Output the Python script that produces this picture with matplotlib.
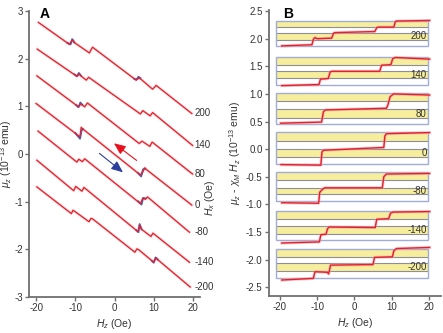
import matplotlib
matplotlib.use("Agg")
import matplotlib.pyplot as plt
from matplotlib.patches import Rectangle

plt.rcParams['font.family'] = ['Liberation Sans', 'DejaVu Sans']
plt.rcParams['mathtext.fontset'] = 'custom'
plt.rcParams['mathtext.rm'] = 'Liberation Sans'
plt.rcParams['mathtext.it'] = 'Liberation Sans:italic'
plt.rcParams['axes.unicode_minus'] = False

hx_labels = ['200', '140', '80', '0', '-80', '-140', '-200']

# ---- panel A: mu_z vs H_z (vertices) ----
a_x_200 = [-19.4, -11.5, -10.9, -10.6, -10.1, -6.4, -5.9, -5.6, 5.5, 6.0, 6.3, 9.7, 10.2, 10.6, 19.7]
a_y_200 = [2.76, 2.30, 2.37, 2.39, 2.33, 2.12, 2.20, 2.24, 1.55, 1.58, 1.60, 1.36, 1.40, 1.44, 0.85]
a_x_140 = [-19.7, -9.6, -9.1, -8.6, -7.2, -6.6, 6.6, 7.2, 9.1, 9.7, 19.9]
a_y_140 = [2.20, 1.63, 1.68, 1.64, 1.55, 1.61, 0.84, 0.91, 0.80, 0.87, 0.18]
a_x_80 = [-19.8, -9.2, -8.6, -7.6, -6.9, 6.3, 7.0, 9.0, 9.6, 19.9]
a_y_80 = [1.64, 0.99, 1.05, 0.99, 1.07, 0.22, 0.27, 0.16, 0.25, -0.42]
a_x_0 = [-20.0, -8.8, -8.5, -8.0, 6.6, 7.3, 7.7, 8.2, 19.7]
a_y_0 = [1.06, 0.36, 0.56, 0.52, -0.44, -0.36, -0.29, -0.33, -1.07]
a_x_m80 = [-19.5, -9.6, -9.1, -8.2, -7.6, 6.6, 7.2, 7.9, 8.4, 19.1]
a_y_m80 = [0.48, -0.17, -0.11, -0.16, -0.10, -1.04, -0.93, -0.95, -0.90, -1.64]
a_x_m140 = [-19.8, -10.4, -9.9, -8.3, -7.8, 6.0, 6.4, 6.9, 9.3, 9.8, 19.1]
a_y_m140 = [-0.13, -0.77, -0.68, -0.78, -0.70, -1.63, -1.49, -1.58, -1.73, -1.66, -2.27]
a_x_m200 = [-19.8, -11.0, -10.6, -10.2, -6.5, -6.0, -5.6, 5.2, 5.7, 6.2, 10.0, 10.5, 19.3]
a_y_m200 = [-0.69, -1.25, -1.18, -1.20, -1.42, -1.35, -1.36, -2.06, -1.99, -2.01, -2.27, -2.18, -2.79]

# blue (up sweep) where it shows from under the red
blue_x = [[-12.0, -11.2, -10.8, -10.3], [5.0, 5.6, 6.1, 6.6],
          [-10.2, -9.5, -9.1, -8.6], [-9.8, -9.2, -8.7, -8.2],
          [-10.0, -8.8, -8.4, -8.0], [6.0, 6.8, 7.3, 7.8],
          [6.0, 6.9, 7.3, 7.8], [5.6, 6.1, 6.4, 6.9],
          [9.5, 10.0, 10.5, 11.0]]
blue_y = [[2.33, 2.30, 2.41, 2.34], [1.58, 1.56, 1.62, 1.59],
          [1.67, 1.63, 1.70, 1.65], [1.03, 0.98, 1.08, 1.03],
          [0.44, 0.32, 0.50, 0.52], [-0.40, -0.47, -0.32, -0.31],
          [-0.99, -1.06, -0.92, -0.93], [-1.60, -1.64, -1.47, -1.58],
          [-2.24, -2.28, -2.17, -2.21]]

# ---- panel B: background-subtracted steps ----
b_x_200 = [-19.5, -11.4, -11.0, -10.6, -10.0, -6.1, -5.6, -5.2, 5.5, 6.0, 6.4, 10.6, 11.0, 11.4, 20.2]
b_y_200 = [1.87, 1.89, 1.99, 2.02, 2.00, 2.01, 2.10, 2.11, 2.13, 2.20, 2.21, 2.21, 2.31, 2.32, 2.33]
b_x_140 = [-19.5, -9.5, -9.1, -8.5, -7.0, -6.5, -6.0, 6.8, 7.3, 9.8, 10.3, 11.0, 20.2]
b_y_140 = [1.15, 1.17, 1.27, 1.27, 1.28, 1.40, 1.41, 1.41, 1.52, 1.53, 1.64, 1.66, 1.63]
b_x_80 = [-19.8, -8.8, -8.3, -7.8, 8.6, 9.0, 9.6, 10.5, 20.2]
b_y_80 = [0.47, 0.49, 0.68, 0.71, 0.74, 0.80, 0.95, 1.00, 0.98]
b_x_0 = [-19.7, -9.0, -8.7, -8.3, 7.9, 8.2, 8.6, 20.2]
b_y_0 = [-0.28, -0.29, -0.05, -0.02, 0.03, 0.24, 0.28, 0.30]
b_x_m80 = [-19.5, -9.6, -9.3, -8.6, -8.0, 7.5, 7.9, 8.6, 20.2]
b_y_m80 = [-0.97, -0.98, -0.78, -0.73, -0.70, -0.70, -0.50, -0.45, -0.44]
b_x_m140 = [-19.5, -9.4, -9.0, -7.6, -7.2, -6.8, 5.6, 6.0, 9.2, 9.7, 10.4, 20.2]
b_y_m140 = [-1.70, -1.68, -1.55, -1.54, -1.44, -1.41, -1.42, -1.27, -1.26, -1.16, -1.14, -1.13]
b_x_m200 = [-19.5, -11.0, -10.6, -7.3, -6.9, -6.4, 5.0, 5.4, 10.2, 10.6, 11.3, 20.2]
b_y_m200 = [-2.37, -2.34, -2.22, -2.23, -2.26, -2.10, -2.09, -1.96, -1.95, -1.84, -1.80, -1.78]

# band edges of each box, bottom to top
box_200 = [1.87, 1.98, 2.10, 2.21, 2.32]
box_140 = [1.16, 1.28, 1.41, 1.53, 1.67]
box_80 = [0.45, 0.57, 0.72, 0.87, 1.01]
box_0 = [-0.26, -0.14, 0.00, 0.15, 0.31]
box_m80 = [-0.94, -0.82, -0.70, -0.56, -0.42]
box_m140 = [-1.65, -1.53, -1.39, -1.26, -1.12]
box_m200 = [-2.33, -2.21, -2.07, -1.95, -1.80]

a_curves = [(a_x_200, a_y_200), (a_x_140, a_y_140), (a_x_80, a_y_80), (a_x_0, a_y_0),
            (a_x_m80, a_y_m80), (a_x_m140, a_y_m140), (a_x_m200, a_y_m200)]
b_curves = [(b_x_200, b_y_200), (b_x_140, b_y_140), (b_x_80, b_y_80), (b_x_0, b_y_0),
            (b_x_m80, b_y_m80), (b_x_m140, b_y_m140), (b_x_m200, b_y_m200)]
boxes = [box_200, box_140, box_80, box_0, box_m80, box_m140, box_m200]

RED = '#e3202b'
HALO = '#f4a3aa'
BLUE = '#4a5cb0'
YELLOW = '#f6ee9c'
AXC = '#707070'


def style_axes(ax):
    for s in ('top', 'right'):
        ax.spines[s].set_visible(False)
    for s in ('left', 'bottom'):
        ax.spines[s].set_color(AXC)
        ax.spines[s].set_linewidth(1.3)
    ax.tick_params(direction='out', length=3, width=1, color=AXC,
                   labelsize=7, labelcolor='#333333', pad=1.5)


fig = plt.figure(figsize=(4.43, 3.33), dpi=100)

# ---------- A ----------
axA = fig.add_axes([0.0655, 0.108, 0.386, 0.859])
style_axes(axA)
for bx, by in zip(blue_x, blue_y):
    axA.plot(bx, by, color=BLUE, lw=1.3, zorder=2)
for (x, y), lab in zip(a_curves, hx_labels):
    axA.plot(x, y, color=HALO, lw=2.0, alpha=0.45, zorder=1)
    axA.plot(x, y, color=RED, lw=0.9, zorder=3)
    axA.text(20.3, y[-1], lab, fontsize=7, color='#333333', va='center',
             ha='left', clip_on=False)
axA.annotate('', xy=(-0.7, 0.26), xytext=(6.2, -0.17),
             arrowprops=dict(arrowstyle='-|>,head_length=0.7,head_width=0.3',
                             color='#e8101c', lw=0.8))
axA.annotate('', xy=(2.7, -0.42), xytext=(-4.4, 0.05),
             arrowprops=dict(arrowstyle='-|>,head_length=0.7,head_width=0.3',
                             color='#2a3f9e', lw=0.8))
axA.set_xlim(-21.8, 21.8)
axA.set_ylim(-3, 3)
axA.set_xticks([-20, -10, 0, 10, 20])
axA.set_yticks([-3, -2, -1, 0, 1, 2, 3])
axA.set_xlabel(r'$H_z$ (Oe)', fontsize=7.5, color='#333333', labelpad=3)
axA.set_ylabel(r'$\mu_z$ (10$^{-13}$ emu)', fontsize=7.5, color='#333333')
axA.yaxis.set_label_coords(-0.085, 0.5)
fig.text(0.09, 0.978, 'A', fontsize=10, fontweight='bold', va='top')
fig.text(0.474, 0.405, r'$H_x$ (Oe)', fontsize=7.5, color='#333333',
         rotation=90, ha='center', va='center')

# ---------- B ----------
axB = fig.add_axes([0.607, 0.111, 0.388, 0.859])
style_axes(axB)
for (x, y), edges, lab in zip(b_curves, boxes, hx_labels):
    x0, x1 = -21.0, 19.7
    for k in (1, 3):
        axB.add_patch(Rectangle((x0, edges[k]), x1 - x0, edges[k + 1] - edges[k],
                                facecolor=YELLOW, edgecolor='none', zorder=1))
    axB.hlines(edges[1:4], x0, x1, color='#8e8e9a', lw=0.8, zorder=2)
    axB.add_patch(Rectangle((x0, edges[0]), x1 - x0, edges[4] - edges[0],
                            facecolor='none', edgecolor='#a3acd4', lw=1.0, zorder=2))
    axB.text(19.4, (edges[1] + edges[2]) / 2, lab, fontsize=7, color='#333333',
             ha='right', va='center', zorder=3)
    axB.plot(x, y, color=HALO, lw=2.2, alpha=0.6, zorder=4)
    axB.plot(x, y, color=RED, lw=1.0, zorder=5)
axB.set_xlim(-22.95, 23.2)
axB.set_ylim(-2.66, 2.52)
axB.set_xticks([-20, -10, 0, 10, 20])
axB.set_yticks([-2.5, -2.0, -1.5, -1.0, -0.5, 0.0, 0.5, 1.0, 1.5, 2.0, 2.5])
axB.set_yticklabels(['-2.5', '-2.0', '-1.5', '-1.0', '-0.5', '0.0', '0.5', '1.0',
                     '1.5', '2.0', '2.5'])
axB.set_xlabel(r'$H_z$ (Oe)', fontsize=7.5, color='#333333', labelpad=3)
axB.set_ylabel(r'$\mu_z$ - $\chi_M$ $H_z$ (10$^{-13}$ emu)', fontsize=7.5,
               color='#333333', labelpad=2)
fig.text(0.638, 0.978, 'B', fontsize=10, fontweight='bold', va='top')

fig.savefig('out.png', dpi=100)
